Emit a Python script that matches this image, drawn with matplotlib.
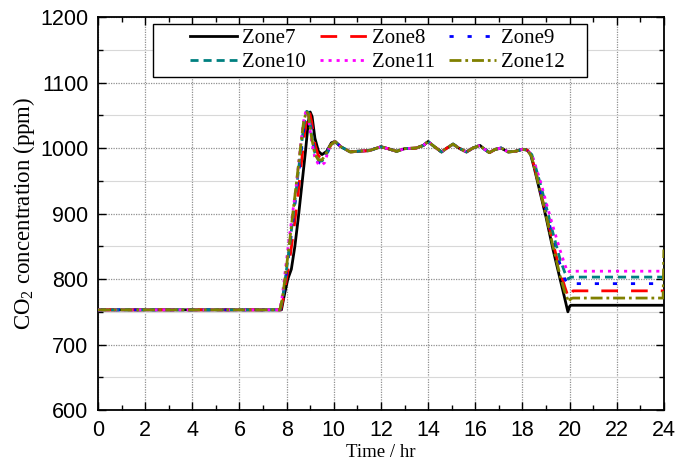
import matplotlib
matplotlib.use("Agg")
import matplotlib.pyplot as plt
from matplotlib.ticker import MultipleLocator
from matplotlib.patches import Rectangle

plt.rcParams['mathtext.fontset'] = 'custom'
plt.rcParams['mathtext.rm'] = 'Liberation Serif'
plt.rcParams['mathtext.it'] = 'Liberation Serif:italic'

# ---- data ----
start_t = [0.0, 7.7]
start_v = [753, 753]

plateau_t = [10.05, 10.3, 10.7, 11.0, 11.5, 12.0, 12.3, 12.67, 13.0, 13.5, 13.8, 14.0, 14.2,
             14.57, 14.8, 15.06, 15.3, 15.63, 15.9, 16.2, 16.4, 16.6, 16.85, 17.1, 17.4,
             17.7, 18.0, 18.2]
plateau_v = [1010, 1002, 994, 995, 996, 1002, 999, 995, 999, 1000, 1004, 1010, 1004,
             994, 1000, 1006, 1000, 994, 1000, 1004, 998, 993, 998, 1000, 994,
             995, 998, 997]

zones = ["Zone7", "Zone8", "Zone9", "Zone10", "Zone11", "Zone12"]

rise_t = {
    "Zone7":  [7.78, 7.9, 8.05, 8.2, 8.35, 8.5, 8.65, 8.8, 8.92, 9.0, 9.08, 9.2, 9.35, 9.5, 9.7, 9.9, 10.05],
    "Zone8":  [7.75, 7.87, 8.02, 8.17, 8.32, 8.47, 8.62, 8.77, 8.88, 8.96, 9.06, 9.2, 9.35, 9.5, 9.7, 9.9, 10.05],
    "Zone9":  [7.73, 7.84, 7.99, 8.14, 8.29, 8.44, 8.59, 8.74, 8.86, 8.94, 9.06, 9.2, 9.35, 9.5, 9.65, 9.85, 10.05],
    "Zone10": [7.72, 7.83, 7.98, 8.13, 8.28, 8.43, 8.58, 8.73, 8.85, 8.93, 9.05, 9.2, 9.35, 9.5, 9.65, 9.85, 10.05],
    "Zone11": [7.70, 7.80, 7.95, 8.1, 8.25, 8.4, 8.55, 8.7, 8.82, 8.9, 9.05, 9.2, 9.35, 9.5, 9.62, 9.8, 10.05],
    "Zone12": [7.71, 7.82, 7.97, 8.12, 8.27, 8.42, 8.57, 8.72, 8.84, 8.92, 9.05, 9.2, 9.35, 9.5, 9.65, 9.85, 10.05],
}
rise_v = {
    "Zone7":  [753, 775, 800, 815, 850, 895, 945, 995, 1040, 1055, 1048, 1015, 995, 990, 995, 1008, 1010],
    "Zone8":  [753, 772, 805, 840, 880, 925, 975, 1025, 1052, 1057, 1040, 1005, 988, 985, 992, 1006, 1010],
    "Zone9":  [753, 770, 810, 850, 895, 940, 985, 1032, 1055, 1055, 1025, 990, 978, 976, 985, 1003, 1010],
    "Zone10": [753, 770, 810, 852, 898, 943, 990, 1035, 1056, 1054, 1022, 992, 982, 980, 988, 1004, 1010],
    "Zone11": [753, 770, 815, 860, 900, 940, 990, 1038, 1057, 1053, 1012, 985, 975, 974, 978, 1000, 1010],
    "Zone12": [753, 770, 812, 855, 902, 948, 995, 1040, 1056, 1052, 1018, 990, 982, 982, 990, 1004, 1010],
}

fall_t = {
    "Zone7":  [18.2, 18.35, 18.5, 18.7, 19.0, 19.3, 19.6, 19.8, 19.93, 20.0, 20.05, 24.0],
    "Zone8":  [18.2, 18.38, 18.55, 18.75, 19.0, 19.3, 19.6, 19.8, 19.97, 20.05, 20.15, 24.0],
    "Zone9":  [18.2, 18.38, 18.55, 18.75, 19.0, 19.3, 19.6, 19.8, 19.97, 20.05, 20.1, 24.0],
    "Zone10": [18.2, 18.4, 18.6, 18.8, 19.0, 19.3, 19.6, 19.8, 19.95, 20.05, 20.1, 24.0],
    "Zone11": [18.2, 18.4, 18.6, 18.8, 19.0, 19.3, 19.6, 19.8, 19.93, 20.0, 20.05, 24.0],
    "Zone12": [18.2, 18.38, 18.55, 18.75, 19.0, 19.3, 19.6, 19.8, 19.97, 20.05, 20.15, 23.97, 24.0],
}
fall_v = {
    "Zone7":  [997, 990, 970, 940, 895, 845, 800, 770, 750, 758, 760, 760],
    "Zone8":  [997, 988, 966, 936, 900, 855, 812, 788, 770, 778, 782, 782],
    "Zone9":  [997, 988, 967, 938, 904, 862, 822, 800, 790, 793, 793, 793],
    "Zone10": [997, 990, 966, 940, 912, 870, 830, 810, 800, 803, 803, 803],
    "Zone11": [997, 990, 968, 945, 918, 880, 844, 822, 810, 812, 812, 812],
    "Zone12": [997, 988, 965, 935, 898, 850, 805, 780, 765, 770, 771, 771, 845],
}

colors = {"Zone7": "#000000", "Zone8": "#ff0000", "Zone9": "#0000ff",
          "Zone10": "#008080", "Zone11": "#ff00ff", "Zone12": "#808000"}
styles = {"Zone7": "-", "Zone8": (0, (6, 4.7)), "Zone9": (0, (1.5, 5)),
          "Zone10": (0, (2.9, 1.8)), "Zone11": (0, (1.1, 1.8)),
          "Zone12": (0, (4.3, 1.4, 1.0, 1.4))}

fig = plt.figure(figsize=(6.76, 4.66), dpi=100)
ax = fig.add_axes([0.145, 0.12, 0.837, 0.8435])

handles = {}
for z in zones:
    t = start_t + rise_t[z] + plateau_t[1:] + fall_t[z][1:]
    v = start_v + rise_v[z] + plateau_v[1:] + fall_v[z][1:]
    ln, = ax.plot(t, v, color=colors[z], linestyle=styles[z], lw=2.0, label=z, zorder=3)
    handles[z] = ln

ax.set_xlim(0, 24)
ax.set_ylim(600, 1200)
ax.xaxis.set_major_locator(MultipleLocator(2))
ax.xaxis.set_minor_locator(MultipleLocator(1))
ax.yaxis.set_major_locator(MultipleLocator(100))
ax.yaxis.set_minor_locator(MultipleLocator(50))

ax.grid(which='major', axis='x', color='#909090', linestyle=(0, (1, 1)), lw=0.9)
ax.grid(which='major', axis='y', color='#909090', linestyle=(0, (1, 1)), lw=0.9)
ax.grid(which='minor', axis='y', color='#d8d8d8', linestyle='-', lw=0.8)
ax.set_axisbelow(True)

ax.tick_params(which='both', direction='in', top=True, right=True, width=1.0,
               labelsize=15.5)
ax.tick_params(which='major', length=6, pad=7)
ax.tick_params(which='minor', length=3.5)
for lab in ax.get_xticklabels() + ax.get_yticklabels():
    lab.set_fontfamily('Liberation Sans')
for s in ax.spines.values():
    s.set_linewidth(1.3)

ax.set_xlabel("Time / hr", fontfamily='Liberation Serif', fontsize=13.5, labelpad=2)
ax.set_ylabel("CO$_2$ concentration (ppm)", fontfamily='Liberation Serif', fontsize=16.5, labelpad=2)

# legend frame (drawn separately, wider than the entries as in the reference)
frame = Rectangle((0.0972, 0.8473), 0.7668, 0.1349, transform=ax.transAxes,
                  facecolor='white', edgecolor='black', lw=1.0, zorder=5)
ax.add_patch(frame)

leg_order = ["Zone7", "Zone10", "Zone8", "Zone11", "Zone9", "Zone12"]
leg = ax.legend([handles[z] for z in leg_order], leg_order, ncol=3, loc='center',
                bbox_to_anchor=(0.494, 0.9148), borderaxespad=0,
                prop={'family': 'Liberation Serif', 'size': 15},
                frameon=False, handlelength=2.25, handletextpad=0.25,
                columnspacing=0.67, borderpad=0.2, labelspacing=0.2)
leg.set_zorder(6)

fig.savefig("out.png", dpi=100)
